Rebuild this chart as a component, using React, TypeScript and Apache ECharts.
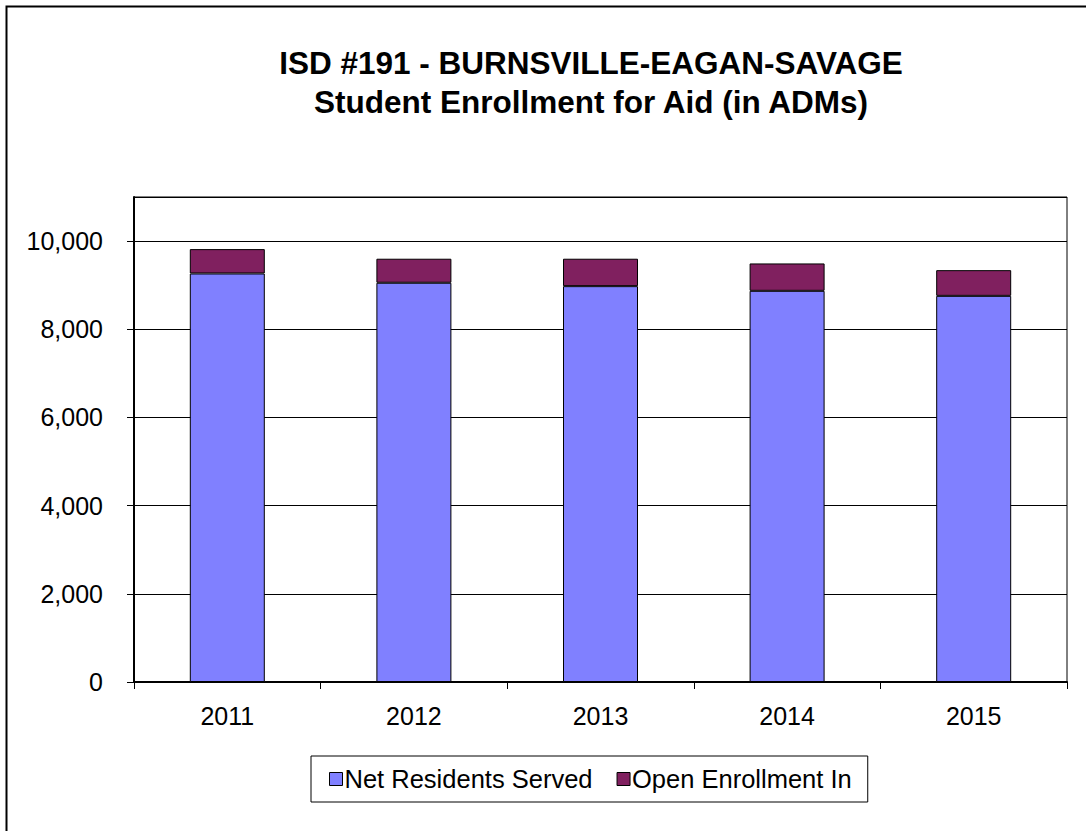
import React, { useEffect, useRef } from "react";
import * as echarts from "echarts";

const years = ["2011", "2012", "2013", "2014", "2015"];
const netResidents = [9265, 9055, 8978, 8872, 8758];
const openEnrollment = [553, 545, 622, 621, 583];
const yTicks = [0, 2000, 4000, 6000, 8000, 10000];

const titleLines = ["ISD #191 - BURNSVILLE-EAGAN-SAVAGE", "Student Enrollment for Aid (in ADMs)"];

export default function App() {
  const ref = useRef<HTMLDivElement>(null);
  useEffect(() => {
    if (!ref.current) return;
    const chart = echarts.init(ref.current, null, { renderer: "svg" });
    const font = "'Liberation Sans', Arial, sans-serif";
    chart.setOption({
      animation: false,
      backgroundColor: "#ffffff",
      textStyle: { fontFamily: font },
      title: {
        text: titleLines.join("\n"),
        left: 586,
        textAlign: "center",
        top: 38,
        textStyle: {
          fontFamily: font,
          fontSize: 31.5,
          fontWeight: "bold",
          color: "#000",
          lineHeight: 39,
        },
      },
      graphic: [
        {
          type: "rect",
          shape: { x: 6.5, y: 6.5, width: 1200, height: 1000 },
          style: { fill: "none", stroke: "#000", lineWidth: 2 },
          silent: true,
        },
      ],
      legend: {
        left: 311,
        top: 756,
        orient: "horizontal",
        borderColor: "#000",
        borderWidth: 1,
        padding: [10, 16, 10, 18],
        itemWidth: 13,
        itemHeight: 13,
        itemGap: 24,
        icon: "rect",
        textStyle: { fontFamily: font, fontSize: 25.5, color: "#000", padding: [0, 0, 0, -3] },
        data: [
          { name: "Net Residents Served", itemStyle: { color: "#8080FF", borderColor: "#000", borderWidth: 1 } },
          { name: "Open Enrollment In", itemStyle: { color: "#80205F", borderColor: "#000", borderWidth: 1 } },
        ],
      },
      grid: {
        left: 134,
        right: 19,
        top: 197,
        bottom: 149,
        show: true,
        borderColor: "#000",
        borderWidth: 1,
        backgroundColor: "transparent",
      },
      xAxis: {
        type: "category",
        data: years,
        axisLine: { lineStyle: { color: "#000", width: 2 } },
        axisTick: { show: true, length: 7, lineStyle: { color: "#000", width: 1 } },
        axisLabel: { fontFamily: font, fontSize: 25, color: "#000", margin: 21 },
        splitLine: { show: false },
      },
      yAxis: {
        type: "value",
        min: 0,
        max: 11000,
        interval: 2000,
        axisLine: { show: true, lineStyle: { color: "#000", width: 2 } },
        axisTick: { show: true, length: 7, lineStyle: { color: "#000", width: 1 } },
        axisLabel: {
          fontFamily: font,
          fontSize: 25,
          color: "#000",
          margin: 31,
          showMaxLabel: false,
          formatter: (v: number) => (yTicks.includes(v) ? v.toLocaleString("en-US") : ""),
        },
        splitLine: { show: true, lineStyle: { color: "#000", width: 1 } },
      },
      series: [
        {
          name: "Net Residents Served",
          type: "bar",
          stack: "total",
          data: netResidents,
          barWidth: 75,
          itemStyle: { color: "#8080FF", borderColor: "#000", borderWidth: 1 },
        },
        {
          name: "Open Enrollment In",
          type: "bar",
          stack: "total",
          data: openEnrollment,
          barWidth: 75,
          itemStyle: { color: "#80205F", borderColor: "#000", borderWidth: 1 },
        },
      ],
    });
    return () => chart.dispose();
  }, []);
  return (
    <div
      ref={ref}
      style={{ position: "absolute", left: 0, top: 0, width: 1086, height: 831 }}
    />
  );
}
